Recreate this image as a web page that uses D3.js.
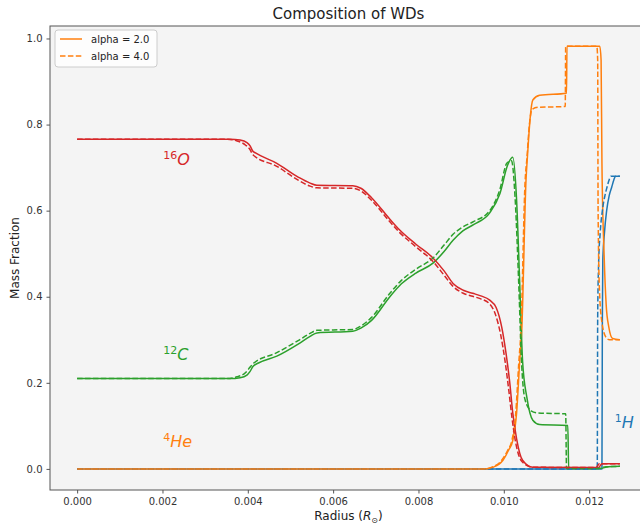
<!DOCTYPE html>
<html>
<head>
<meta charset="utf-8">
<script src="https://cdn.jsdelivr.net/npm/d3@7"></script>
<style>
  body { margin: 0; background: #fff; }
  text { font-family: "DejaVu Sans", sans-serif; }
</style>
</head>
<body>
<div id="chart"></div>
<script>
// Composition of WDs - mass fraction vs radius

// tick values
var xTicks = [0, 0.002, 0.004, 0.006, 0.008, 0.010, 0.012];
var yTicks = [0, 0.2, 0.4, 0.6, 0.8, 1.0];

// series as [radius, mass fraction]
// alpha = 2.0 (solid)
var h1_a2 = [[0, 0], [0.01230, 0], [0.01231, 0.35], [0.01232, 0.485], [0.01236, 0.55], [0.01241, 0.60],
  [0.01247, 0.635], [0.01253, 0.655], [0.01258, 0.672], [0.01262, 0.68], [0.01272, 0.68]];
var he4_a2 = [[0, 0], [0.00955, 0], [0.00975, 0.004], [0.00998, 0.02], [0.01012, 0.045], [0.01021, 0.066],
  [0.01030, 0.13], [0.01037, 0.245], [0.01042, 0.32], [0.01052, 0.67], [0.01056, 0.735], [0.01062, 0.818],
  [0.01068, 0.857], [0.01084, 0.868], [0.01147, 0.873], [0.01148, 0.982], [0.01225, 0.982], [0.01228, 0.95],
  [0.01230, 0.71], [0.01235, 0.50], [0.01240, 0.38], [0.01246, 0.33], [0.01255, 0.303], [0.01272, 0.30]];
var c12_a2 = [[0, 0.21], [0.00358, 0.21], [0.00382, 0.212], [0.00398, 0.218], [0.00405, 0.226], [0.00412, 0.238],
  [0.00425, 0.246], [0.00468, 0.262], [0.00518, 0.290], [0.00546, 0.308], [0.00562, 0.316], [0.00646, 0.320],
  [0.00665, 0.327], [0.00690, 0.345], [0.00733, 0.40], [0.00760, 0.43], [0.00794, 0.455], [0.00834, 0.478],
  [0.00860, 0.505], [0.00881, 0.531], [0.00904, 0.553], [0.00930, 0.568], [0.00967, 0.595], [0.00991, 0.64],
  [0.01009, 0.706], [0.01021, 0.724], [0.01030, 0.624], [0.01037, 0.44], [0.01044, 0.25], [0.01054, 0.166],
  [0.01068, 0.113], [0.01084, 0.103], [0.01150, 0.101], [0.01152, 0.001], [0.01225, 0.001], [0.01245, 0.005],
  [0.01272, 0.006]];
var o16_a2 = [[0, 0.766], [0.00358, 0.766], [0.00382, 0.764], [0.00398, 0.758], [0.00405, 0.751], [0.00412, 0.738],
  [0.00418, 0.734], [0.00468, 0.710], [0.00518, 0.678], [0.00546, 0.664], [0.00562, 0.659], [0.00646, 0.658],
  [0.00665, 0.652], [0.00690, 0.630], [0.00733, 0.580], [0.00756, 0.555], [0.00794, 0.522], [0.00834, 0.490],
  [0.00860, 0.460], [0.00881, 0.431], [0.00905, 0.415], [0.00927, 0.408], [0.00946, 0.402], [0.00967, 0.392],
  [0.00982, 0.375], [0.00995, 0.330], [0.01005, 0.27], [0.01014, 0.20], [0.01021, 0.13], [0.01030, 0.07],
  [0.01044, 0.02], [0.01068, 0.004], [0.01222, 0.003], [0.01230, 0.012], [0.01272, 0.012]];

// alpha = 4.0 (dashed)
var h1_a4 = [[0, 0], [0.01219, 0], [0.01220, 0.35], [0.01222, 0.47], [0.01226, 0.55], [0.01231, 0.60],
  [0.01237, 0.635], [0.01242, 0.655], [0.01247, 0.672], [0.01251, 0.68], [0.01272, 0.68]];
var he4_a4 = [[0, 0], [0.00952, 0], [0.00972, 0.004], [0.00995, 0.02], [0.01010, 0.045], [0.01019, 0.066],
  [0.01028, 0.13], [0.01035, 0.245], [0.01040, 0.32], [0.01050, 0.67], [0.01054, 0.72], [0.01060, 0.80],
  [0.01066, 0.835], [0.01080, 0.84], [0.01144, 0.842], [0.01145, 0.982], [0.01218, 0.982], [0.01220, 0.95],
  [0.01221, 0.6], [0.01224, 0.42], [0.01230, 0.34], [0.01240, 0.305], [0.01248, 0.30], [0.01272, 0.30]];
var c12_a4 = [[0, 0.21], [0.00350, 0.21], [0.00375, 0.214], [0.00395, 0.224], [0.00405, 0.236], [0.00412, 0.244],
  [0.00468, 0.270], [0.00518, 0.298], [0.00546, 0.315], [0.00562, 0.322], [0.00646, 0.324], [0.00665, 0.332],
  [0.00690, 0.352], [0.00733, 0.408], [0.00760, 0.438], [0.00794, 0.464], [0.00834, 0.49], [0.00860, 0.52],
  [0.00881, 0.545], [0.00904, 0.562], [0.00930, 0.575], [0.00967, 0.60], [0.00991, 0.65], [0.01007, 0.71],
  [0.01018, 0.716], [0.01027, 0.62], [0.01035, 0.43], [0.01042, 0.24], [0.01050, 0.16], [0.01064, 0.135],
  [0.01080, 0.13], [0.01145, 0.128], [0.01147, 0.001], [0.01218, 0.001], [0.01240, 0.005], [0.01272, 0.006]];
var o16_a4 = [[0, 0.766], [0.00350, 0.766], [0.00375, 0.762], [0.00395, 0.752], [0.00405, 0.742], [0.00412, 0.73],
  [0.00468, 0.703], [0.00518, 0.671], [0.00546, 0.657], [0.00562, 0.653], [0.00646, 0.652], [0.00665, 0.646],
  [0.00690, 0.624], [0.00733, 0.574], [0.00756, 0.549], [0.00794, 0.516], [0.00834, 0.482], [0.00860, 0.45],
  [0.00881, 0.424], [0.00905, 0.408], [0.00927, 0.401], [0.00946, 0.395], [0.00967, 0.383], [0.00980, 0.36],
  [0.00993, 0.31], [0.01003, 0.25], [0.01012, 0.18], [0.01019, 0.12], [0.01028, 0.06], [0.01042, 0.018],
  [0.01066, 0.004], [0.01216, 0.003], [0.01224, 0.012], [0.01272, 0.012]];

var alphas = ["alpha = 2.0", "alpha = 4.0"];
var species = ["1H", "4He", "12C", "16O"];
var colors = {"1H": "#1f77b4", "4He": "#ff7f0e", "12C": "#2ca02c", "16O": "#d62728"};

var runs = [
  {alpha: alphas[0], dash: null, series: {"1H": h1_a2, "4He": he4_a2, "12C": c12_a2, "16O": o16_a2}},
  {alpha: alphas[1], dash: "5.5,2.4", series: {"1H": h1_a4, "4He": he4_a4, "12C": c12_a4, "16O": o16_a4}}
];

// dimensions - the right part of the axes is cut off by the window
var W = 640, H = 524;
var margin = {top: 26, left: 50},
    width = 597,
    height = 464;

var svg = d3.select("#chart")
  .append("svg")
    .attr("width", W)
    .attr("height", H);

var g = svg.append("g")
    .attr("transform", "translate(" + margin.left + "," + margin.top + ")");

// matplotlib style 5% margins
var xMax = 0.01272;
var x = d3.scaleLinear()
  .domain([-0.05 * xMax, 1.05 * xMax])
  .range([0, width]);
var y = d3.scaleLinear()
  .domain([-0.049, 1.029])
  .range([height, 0]);

// axes background
g.append("rect")
    .attr("width", width)
    .attr("height", height)
    .attr("fill", "#f4f4f4");

// lines
var line = d3.line()
  .curve(d3.curveMonotoneX)
  .x(function(d) { return x(d[0]); })
  .y(function(d) { return y(d[1]); });

runs.forEach(function(run) {
  species.forEach(function(s) {
    g.append("path")
      .datum(run.series[s])
      .attr("d", line)
      .attr("fill", "none")
      .attr("stroke", colors[s])
      .attr("stroke-width", 1.5)
      .attr("stroke-dasharray", run.dash)
      .attr("stroke-linejoin", "round");
  });
});

// spines
g.append("rect")
    .attr("width", width)
    .attr("height", height)
    .attr("fill", "none")
    .attr("stroke", "#555")
    .attr("stroke-width", 1);

// axes
var xAxis = g.append("g")
    .attr("transform", "translate(0," + height + ")")
    .call(d3.axisBottom(x).tickValues(xTicks).tickFormat(d3.format(".3f")).tickSizeOuter(0).tickSize(3.5).tickPadding(4));
var yAxis = g.append("g")
    .call(d3.axisLeft(y).tickValues(yTicks).tickFormat(d3.format(".1f")).tickSizeOuter(0).tickSize(3.5).tickPadding(4));

[xAxis, yAxis].forEach(function(a) {
  a.select(".domain").remove();
  a.selectAll(".tick line").attr("stroke", "#555");
  a.selectAll(".tick text")
    .attr("fill", "#333")
    .style("font-size", "10px")
    .style("font-family", "DejaVu Sans, sans-serif");
});

// title
svg.append("text")
    .attr("x", margin.left + width / 2)
    .attr("y", 19)
    .attr("text-anchor", "middle")
    .style("font-size", "15px")
    .attr("fill", "#222")
    .text("Composition of WDs");

// x label: Radius (R_sun)
var xl = svg.append("text")
    .attr("x", margin.left + width / 2)
    .attr("y", 520)
    .attr("text-anchor", "middle")
    .style("font-size", "12px")
    .attr("fill", "#222");
xl.append("tspan").text("Radius (");
xl.append("tspan").style("font-style", "italic").text("R");
xl.append("tspan").attr("dy", 3).style("font-size", "8px").text("\u2299");
xl.append("tspan").attr("dy", -3).text(")");

// y label
svg.append("text")
    .attr("transform", "translate(19," + (margin.top + y(0.49)) + ") rotate(-90)")
    .attr("text-anchor", "middle")
    .style("font-size", "12px")
    .attr("fill", "#222")
    .text("Mass Fraction");

// species labels
var labels = [
  {mass: "16", el: "O", color: colors["16O"], r: 0.00202, v: 0.705},
  {mass: "12", el: "C", color: colors["12C"], r: 0.00202, v: 0.253},
  {mass: "4", el: "He", color: colors["4He"], r: 0.00202, v: 0.05},
  {mass: "1", el: "H", color: colors["1H"], r: 0.01260, v: 0.095}
];
labels.forEach(function(l) {
  var t = g.append("text")
      .attr("x", x(l.r))
      .attr("y", y(l.v))
      .attr("fill", l.color)
      .style("font-size", "16px");
  t.append("tspan").attr("dy", -6).style("font-size", "11px").text(l.mass);
  t.append("tspan").attr("dy", 6).style("font-style", "italic").text(l.el);
});

// legend
var legend = g.append("g")
    .attr("transform", "translate(5,4)");
legend.append("rect")
    .attr("width", 102)
    .attr("height", 37)
    .attr("rx", 3)
    .attr("fill", "#fff")
    .attr("fill-opacity", 0.8)
    .attr("stroke", "#ccc");
runs.forEach(function(run, i) {
  var ly = 9 + i * 17;
  legend.append("line")
      .attr("x1", 5).attr("x2", 27)
      .attr("y1", ly).attr("y2", ly)
      .attr("stroke", colors["4He"])
      .attr("stroke-width", 1.5)
      .attr("stroke-dasharray", run.dash);
  legend.append("text")
      .attr("x", 36)
      .attr("y", ly + 4)
      .style("font-size", "10px")
      .attr("fill", "#222")
      .text(run.alpha);
});
</script>
</body>
</html>
